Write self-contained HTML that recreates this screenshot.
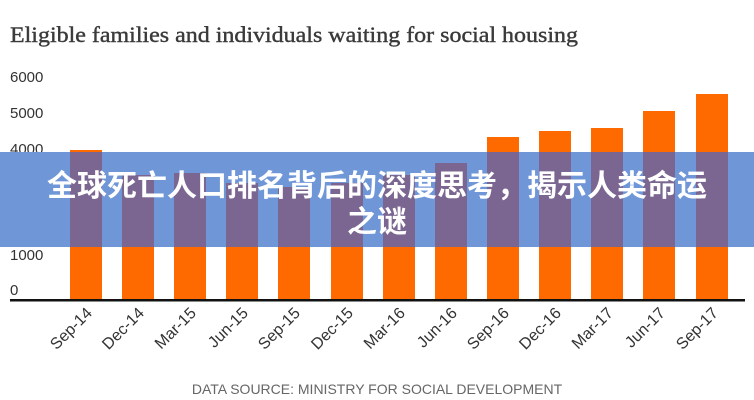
<!DOCTYPE html>
<html><head><meta charset="utf-8"><style>
body{margin:0;background:#fff;}
svg{display:block;}
</style></head><body>
<svg width="754" height="400" viewBox="0 0 754 400" xmlns="http://www.w3.org/2000/svg">
<rect width="754" height="400" fill="#fff"/>
<text x="10" y="42" font-family="Liberation Serif, serif" font-size="22" fill="#3a3a3a" stroke="#3a3a3a" stroke-width="0.4" textLength="568" lengthAdjust="spacingAndGlyphs">Eligible families and individuals waiting for social housing</text>
<g font-family="Liberation Sans, sans-serif" font-size="15" fill="#333">
<text x="10" y="82">6000</text>
<text x="10" y="118">5000</text>
<text x="10" y="154">4000</text>
<text x="10" y="189">3000</text>
<text x="10" y="225">2000</text>
<text x="10" y="260">1000</text>
<text x="10" y="295">0</text>
</g>
<g fill="#ff6a00">
<rect x="70" y="150" width="32" height="150"/>
<rect x="122" y="175" width="32" height="125"/>
<rect x="174" y="173" width="32" height="127"/>
<rect x="226" y="183" width="32" height="117"/>
<rect x="278" y="187" width="32" height="113"/>
<rect x="331" y="183" width="32" height="117"/>
<rect x="383" y="175" width="32" height="125"/>
<rect x="435" y="163" width="32" height="137"/>
<rect x="487" y="137" width="32" height="163"/>
<rect x="539" y="131" width="32" height="169"/>
<rect x="591" y="128" width="32" height="172"/>
<rect x="643" y="111" width="32" height="189"/>
<rect x="696" y="94" width="32" height="206"/>
</g>
<rect x="10" y="299" width="735" height="2.5" fill="#111"/>
<g font-family="Liberation Sans, sans-serif" font-size="16" fill="#333" text-anchor="end">
<text transform="translate(93,314) rotate(-45)">Sep-14</text>
<text transform="translate(145,314) rotate(-45)">Dec-14</text>
<text transform="translate(197,314) rotate(-45)">Mar-15</text>
<text transform="translate(249,314) rotate(-45)">Jun-15</text>
<text transform="translate(301,314) rotate(-45)">Sep-15</text>
<text transform="translate(354,314) rotate(-45)">Dec-15</text>
<text transform="translate(406,314) rotate(-45)">Mar-16</text>
<text transform="translate(458,314) rotate(-45)">Jun-16</text>
<text transform="translate(510,314) rotate(-45)">Sep-16</text>
<text transform="translate(562,314) rotate(-45)">Dec-16</text>
<text transform="translate(614,314) rotate(-45)">Mar-17</text>
<text transform="translate(666,314) rotate(-45)">Jun-17</text>
<text transform="translate(719,314) rotate(-45)">Sep-17</text>
</g>
<text x="377" y="394" text-anchor="middle" font-family="Liberation Sans, sans-serif" font-size="14" fill="#666">DATA SOURCE: MINISTRY FOR SOCIAL DEVELOPMENT</text>
<rect x="0" y="152" width="754" height="95" fill="#6f97d8"/>
<g fill="#7a6690">
<rect x="70" y="152" width="32" height="95"/>
<rect x="122" y="175" width="32" height="72"/>
<rect x="174" y="173" width="32" height="74"/>
<rect x="226" y="183" width="32" height="64"/>
<rect x="278" y="187" width="32" height="60"/>
<rect x="331" y="183" width="32" height="64"/>
<rect x="383" y="175" width="32" height="72"/>
<rect x="435" y="163" width="32" height="84"/>
<rect x="487" y="152" width="32" height="95"/>
<rect x="539" y="152" width="32" height="95"/>
<rect x="591" y="152" width="32" height="95"/>
<rect x="643" y="152" width="32" height="95"/>
<rect x="696" y="152" width="32" height="95"/>
</g>
<g font-family="Liberation Sans, 'Noto Sans CJK SC', sans-serif" font-size="30" font-weight="bold" fill="#fff" text-anchor="middle">
<text x="377" y="196">全球死亡人口排名背后的深度思考，揭示人类命运</text>
<text x="377" y="232">之谜</text>
</g>
</svg>
</body></html>
